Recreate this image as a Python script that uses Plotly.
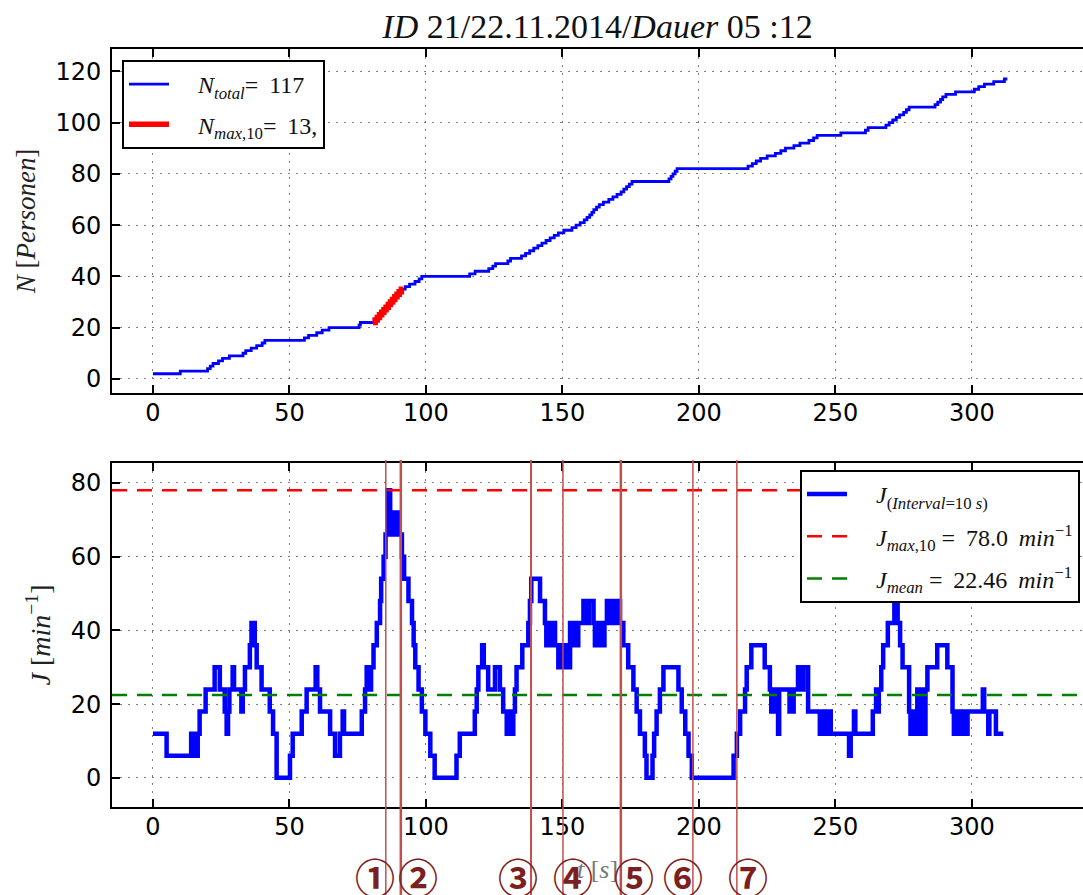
import plotly.graph_objects as go

# ---------------- data ----------------
t_N = [0, 10, 20, 21, 22, 24, 25.5, 28, 33, 34,
       36, 38, 40, 41, 55.5, 57, 60, 62, 64.5, 75.5,
       76, 80.6, 81.4, 82.2, 83, 83.8, 84.6, 85.4, 86.2, 87,
       87.8, 88.6, 89.4, 90.2, 91, 91.6, 92.4, 94, 96, 97.5,
       98.5, 116, 118, 123, 124.5, 125.5, 130, 131, 135, 136.5,
       138, 139.5, 141, 142.5, 144, 145.5, 147, 148.5, 150.5, 153.5,
       155, 156.5, 158, 159, 160, 160.8, 161.5, 162.5, 163.5, 165,
       167, 168.5, 170, 171.5, 172.5, 173.5, 174.5, 175.5, 189, 189.8,
       190.5, 191.3, 192, 218, 219.6, 221, 222.6, 225, 228, 230,
       231.7, 234.8, 237, 240.3, 242, 243.3, 252, 261, 262, 268.5,
       269.7, 271, 272.3, 273.5, 275, 276, 277, 286.5, 287.5, 288.5,
       289.3, 290.5, 294, 300.9, 302.5, 304.6, 308, 311.9, 313]
N_vals = [2, 3, 4, 5, 6, 7, 8, 9, 10, 11,
          12, 13, 14, 15, 16, 17, 18, 19, 20, 21,
          22, 22, 23, 24, 25, 26, 27, 28, 29, 30,
          31, 32, 33, 34, 35, 35, 36, 37, 38, 39,
          40, 41, 42, 43, 44, 45, 46, 47, 48, 49,
          50, 51, 52, 53, 54, 55, 56, 57, 58, 59,
          60, 61, 62, 63, 64, 65, 66, 67, 68, 69,
          70, 71, 72, 73, 74, 75, 76, 77, 78, 79,
          80, 81, 82, 83, 84, 85, 86, 87, 88, 89,
          90, 91, 92, 93, 94, 95, 96, 97, 98, 99,
          100, 101, 102, 103, 104, 105, 106, 107, 108, 109,
          110, 111, 112, 113, 114, 115, 116, 117, 117]

# window of the maximum 10 s count (highlighted red)
red_window = [80.6, 91.6]

t_J = [0, 5, 14, 14.6, 15.2, 15.8, 16.4, 17.1, 19.3, 22.6,
       24.5, 26.3, 27.0, 27.5, 28.0, 29.2, 29.7, 32.4, 32.9, 33.7,
       35.5, 36.1, 37.3, 38.0, 39.8, 42.8, 44.0, 45.3, 50.2, 51.2,
       54.5, 56.3, 59.6, 60.2, 61.2, 64.9, 66.7, 68.5, 69.5, 70.0,
       76.5, 77.7, 78.3, 78.7, 79.1, 79.5, 79.9, 80.8, 82.0, 83.2,
       83.6, 84.5, 85.2, 85.9, 86.9, 87.3, 87.7, 88.1, 88.5, 88.9,
       89.3, 89.7, 91.2, 92.0, 93.6, 94.9, 95.5, 96.1, 97.3, 98.5,
       99.8, 101.6, 103.2, 111.2, 112.4, 117.9, 118.6, 119.2, 120.6, 121.2,
       122.8, 125.3, 127.1, 128.3, 129.6, 130.1, 130.6, 131.1, 131.6, 132.0,
       132.6, 133.2, 135.3, 137.5, 138.1, 138.6, 141.8, 143.6, 144.1, 144.6,
       145.1, 145.6, 146.1, 146.6, 147.3, 148.5, 149.0, 149.5, 150.0, 150.5,
       151.0, 151.5, 152.8, 153.3, 153.8, 154.3, 154.8, 155.3, 155.8, 157.7,
       158.2, 158.7, 159.2, 159.7, 161.4, 161.9, 162.4, 162.9, 163.4, 163.9,
       164.4, 164.9, 165.4, 166.3, 166.8, 167.3, 167.8, 168.3, 168.8, 169.3,
       169.8, 170.3, 171.1, 172.3, 174.1, 176.0, 177.2, 178.4, 180.2, 180.8,
       183.0, 183.6, 184.5, 185.7, 187.0, 192.5, 193.7, 195.0, 196.2, 197.4,
       212.7, 213.9, 215.1, 216.9, 217.5, 219.2, 224.1, 226.0, 226.5, 227.0,
       227.5, 228.0, 229.0, 229.4, 233.2, 233.7, 234.2, 234.7, 236.3, 236.8,
       237.3, 237.8, 238.3, 240.0, 244.3, 244.8, 245.3, 245.8, 246.3, 246.8,
       247.3, 247.8, 248.3, 255.0, 255.6, 256.8, 257.3, 263.7, 264.9, 265.4,
       265.9, 266.8, 267.5, 269.2, 271.6, 272.8, 273.7, 274.6, 277.0, 277.5,
       278.0, 278.5, 279.0, 280.0, 280.5, 281.0, 281.5, 282.0, 282.5, 283.0,
       283.7, 287.3, 291.0, 292.9, 293.4, 293.9, 294.4, 294.9, 295.4, 295.9,
       296.4, 296.9, 297.4, 298.4, 304.0, 304.5, 306.0, 306.4, 308.8, 311.5]
J_vals = [12, 6, 12, 6, 12, 6, 12, 18, 24, 30,
          24, 18, 12, 18, 24, 30, 24, 18, 24, 30,
          36, 42, 36, 30, 24, 18, 12, 0, 6, 12,
          18, 24, 30, 24, 18, 12, 6, 12, 18, 12,
          18, 24, 30, 24, 30, 24, 30, 36, 42, 48,
          54, 60, 66, 78, 72, 66, 72, 66, 72, 66,
          72, 66, 60, 54, 48, 42, 36, 30, 24, 18,
          12, 6, 0, 6, 12, 18, 24, 30, 36, 30,
          24, 30, 24, 18, 12, 18, 12, 18, 12, 18,
          24, 30, 36, 42, 48, 54, 48, 42, 36, 42,
          36, 42, 36, 42, 36, 30, 36, 30, 36, 30,
          36, 30, 42, 36, 42, 36, 42, 36, 42, 48,
          42, 48, 42, 48, 42, 36, 42, 36, 42, 36,
          42, 36, 42, 48, 42, 48, 42, 48, 42, 48,
          42, 48, 42, 36, 30, 24, 18, 12, 6, 0,
          6, 12, 18, 24, 30, 24, 18, 12, 6, 0,
          6, 12, 18, 24, 30, 36, 30, 24, 18, 24,
          18, 24, 12, 24, 18, 24, 18, 24, 30, 24,
          30, 24, 30, 18, 12, 18, 12, 18, 12, 18,
          12, 18, 12, 6, 12, 18, 12, 18, 24, 18,
          24, 30, 36, 42, 48, 42, 36, 30, 18, 12,
          18, 12, 18, 24, 12, 24, 12, 24, 12, 24,
          30, 36, 30, 18, 12, 18, 12, 18, 12, 18,
          12, 18, 12, 18, 24, 18, 12, 18, 12, 12]

J_max = 78.0
J_mean = 22.46
N_total = 117
N_max10 = 13

marker_t = [85.3, 90.8, 138.5, 150.2, 171.4, 197.8, 213.9]
marker_labels = ["\u2460", "\u2461", "\u2462", "\u2463", "\u2464", "\u2465", "\u2466"]
marker_label_shift = [-11, 17, -13, 10, 13, -10, 11]
marker_line_width = [1.5, 2.5, 2, 1.5, 2.5, 1.5, 1.5]

x_range = [-15, 340.7]
x_ticks = [0, 50, 100, 150, 200, 250, 300]
N_ticks = [0, 20, 40, 60, 80, 100, 120]
J_ticks = [0, 20, 40, 60, 80]

# ---------------- figure ----------------
SERIF = "Liberation Serif, Times New Roman, serif"
SANS = "DejaVu Sans, Arial, sans-serif"
SP = "\u2009"
LEAD = "\u2002\u2002"

fig = go.Figure()

fig.add_trace(go.Scatter(
    x=t_N, y=N_vals, mode="lines", line=dict(color="#0000ff", width=2.8, shape="hv"),
    name=LEAD + "<i>N</i><sub><i>total</i></sub>=" + SP + " %d" % N_total,
    legend="legend", legendgroup="a", xaxis="x", yaxis="y"))

red_t = [t for t in t_N if red_window[0] <= t <= red_window[1]]
red_N = [n for t, n in zip(t_N, N_vals) if red_window[0] <= t <= red_window[1]]
fig.add_trace(go.Scatter(
    x=red_t, y=red_N, mode="lines", line=dict(color="#ff0000", width=5.5, shape="hv"),
    name=LEAD + "<i>N</i><sub><i>max</i>,10</sub>=" + SP + " %d," % N_max10,
    legend="legend", legendgroup="b", xaxis="x", yaxis="y"))

fig.add_trace(go.Scatter(
    x=t_J, y=J_vals, mode="lines", line=dict(color="#0000ff", width=4.5, shape="hv"),
    name=LEAD + "<i>J</i><sub>(<i>Interval</i>=10 <i>s</i>)</sub>",
    legend="legend2", legendgroup="c", xaxis="x2", yaxis="y2"))

fig.add_trace(go.Scatter(
    x=x_range, y=[J_max, J_max], mode="lines",
    line=dict(color="#ff0000", width=2.5, dash="15px,10px"),
    name=LEAD + "<i>J</i><sub><i>max</i>,10</sub> =" + SP + " %.1f" % J_max + SP + " <i>min</i><sup>\u22121</sup>",
    legend="legend2", legendgroup="d", xaxis="x2", yaxis="y2"))

fig.add_trace(go.Scatter(
    x=x_range, y=[J_mean, J_mean], mode="lines",
    line=dict(color="#008000", width=2.5, dash="15px,10px"),
    name=LEAD + "<i>J</i><sub><i>mean</i></sub> =" + SP + " %.2f" % J_mean + SP + " <i>min</i><sup>\u22121</sup>",
    legend="legend2", legendgroup="e", xaxis="x2", yaxis="y2"))

# layout geometry (pixels)
W, H = 1083, 895
ml, mr, mt, mb = 112, 0, 49, 88
ph = H - mt - mb
top_dom = [(807 - 393) / ph, 1.0]
bot_dom = [0.0, (807 - 463) / ph]

axis_common = dict(
    showline=True, linecolor="black", linewidth=2,
    ticks="inside", ticklen=8, tickwidth=1.5, tickcolor="black",
    showgrid=True, gridcolor="#808080", gridwidth=1, griddash="2px,6px",
    zeroline=False,
    tickfont=dict(family=SANS, size=24, color="black"),
)

fig.update_layout(
    width=W, height=H,
    margin=dict(l=ml, r=mr, t=mt, b=mb),
    paper_bgcolor="white", plot_bgcolor="white",
    title=dict(
        text="<i>ID</i> 21/22.11.2014/<i>Dauer</i> 05 :12",
        x=(ml + W - mr) / 2 / W, xanchor="center", y=1 - 26 / H, yanchor="middle",
        font=dict(family=SERIF, size=34, color="#111"),
    ),
    xaxis=dict(domain=[0, 1], anchor="y", range=x_range, tickvals=x_ticks,
               mirror="ticks", ticklabelstandoff=-3, **axis_common),
    yaxis=dict(domain=top_dom, anchor="x", range=[-5.5, 128.7], tickvals=N_ticks,
               mirror=False, ticklabelstandoff=4,
               title=dict(text="<i>N</i> [<i>Personen</i>]", standoff=12,
                          font=dict(family=SERIF, size=27, color="#222")),
               **axis_common),
    xaxis2=dict(domain=[0, 1], anchor="y2", range=x_range, tickvals=x_ticks,
                mirror="ticks", ticklabelstandoff=-3,
                title=dict(text="<i>t</i> [<i>s</i>]", standoff=20,
                           font=dict(family=SERIF, size=26, color="#777")),
                **axis_common),
    yaxis2=dict(domain=bot_dom, anchor="x2", range=[-7.9, 85.4], tickvals=J_ticks,
                mirror=False, ticklabelstandoff=4,
                title=dict(text="<i>J</i> [<i>min</i><sup>\u22121</sup>]", standoff=12,
                           font=dict(family=SERIF, size=28, color="#222")),
                **axis_common),
    legend=dict(x=(122 - ml) / (W - ml - mr), y=(807 - 60) / ph, xanchor="left", yanchor="top",
                bgcolor="white", bordercolor="black", borderwidth=2,
                font=dict(family=SERIF, size=24, color="#111"),
                tracegroupgap=6, itemwidth=40),
    legend2=dict(x=(800 - ml) / (W - ml - mr), y=(807 - 470) / ph, xanchor="left", yanchor="top",
                 bgcolor="white", bordercolor="black", borderwidth=2,
                 font=dict(family=SERIF, size=24, color="#111"),
                 tracegroupgap=8, itemwidth=40),
    showlegend=True,
)

# vertical marker lines and circled numbers
for t, w in zip(marker_t, marker_line_width):
    fig.add_shape(type="line", xref="x2", yref="paper", x0=t, x1=t,
                  y0=(807 - 900) / ph, y1=(807 - 460) / ph,
                  line=dict(color="#c0504d", width=w), layer="above")

for t, lab, dx in zip(marker_t, marker_labels, marker_label_shift):
    fig.add_annotation(x=t, xref="x2", y=(807 - 876) / ph, yref="paper",
                       text="<b>" + lab + "</b>", showarrow=False, xshift=dx,
                       xanchor="center", yanchor="middle",
                       font=dict(family="Noto Sans CJK JP", size=40, color="#7b2020"))

fig.write_html("out.html", config={"displayModeBar": False},
               post_script="document.body.style.margin='0px';")
